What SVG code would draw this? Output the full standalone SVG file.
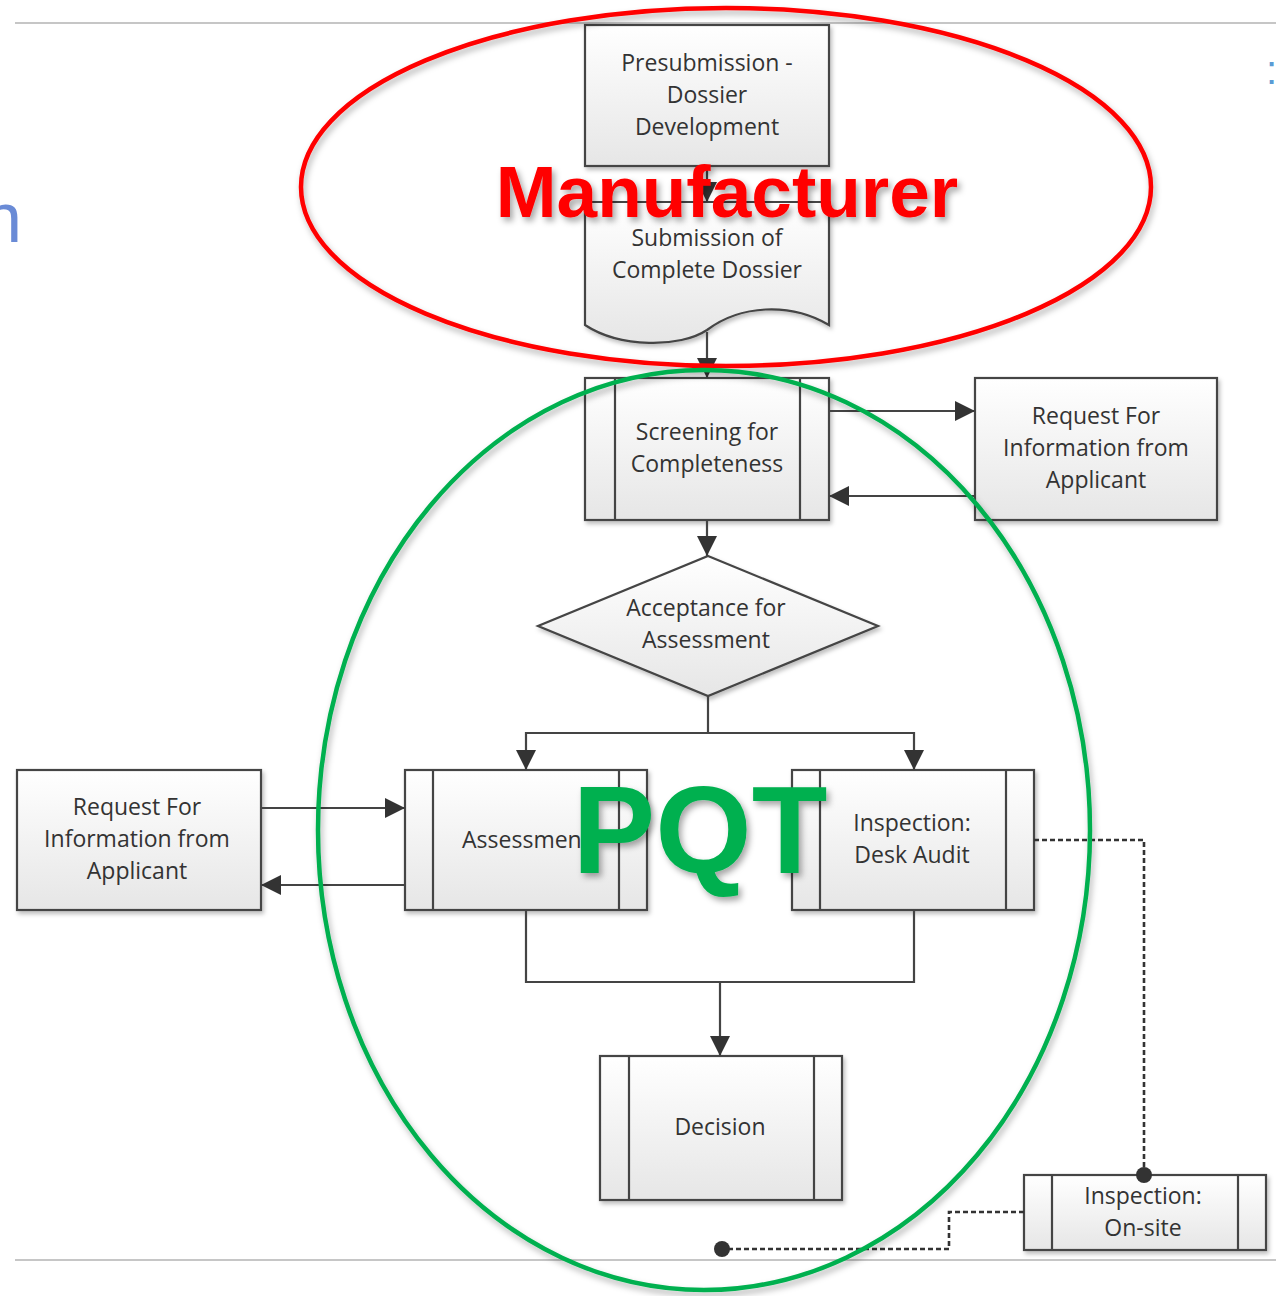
<svg xmlns="http://www.w3.org/2000/svg" width="1276" height="1296" viewBox="0 0 1276 1296">
<defs>
<linearGradient id="boxfill" x1="0" y1="0" x2="0" y2="1">
<stop offset="0" stop-color="#ffffff"/>
<stop offset="1" stop-color="#e6e6e6"/>
</linearGradient>
<filter id="sh" x="-10%" y="-10%" width="130%" height="130%">
<feDropShadow dx="2" dy="3" stdDeviation="2" flood-color="#000" flood-opacity="0.25"/>
</filter>
<filter id="tsh" x="-10%" y="-20%" width="130%" height="150%">
<feDropShadow dx="3" dy="4" stdDeviation="3" flood-color="#000" flood-opacity="0.35"/>
</filter>
<filter id="esh" x="-10%" y="-10%" width="130%" height="130%">
<feDropShadow dx="2" dy="4" stdDeviation="3" flood-color="#000" flood-opacity="0.3"/>
</filter>
<marker id="ah" viewBox="0 0 10 10" refX="10" refY="5" markerWidth="22" markerHeight="20" markerUnits="userSpaceOnUse" orient="auto">
<path d="M0,0 L10,5 L0,10 z" fill="#333"/>
</marker>
<style>
.box{fill:url(#boxfill);stroke:#444;stroke-width:2.2;filter:url(#sh)}
.inner{stroke:#444;stroke-width:2.2;fill:none}
.lbl{font-family:"Open Sans","Noto Sans",sans-serif;font-size:23px;fill:#333;text-anchor:middle}
.con{fill:none;stroke:#444;stroke-width:2.2}
.arr{fill:none;stroke:#444;stroke-width:2.2;marker-end:url(#ah)}
.dash{fill:none;stroke:#333;stroke-width:2.6;stroke-dasharray:5 3}
.frame{stroke:#b3b3b3;stroke-width:1.5}
</style>
</defs>
<rect width="1276" height="1296" fill="#ffffff"/>
<line class="frame" x1="15" y1="23" x2="1276" y2="23"/>
<line class="frame" x1="15" y1="1260" x2="1276" y2="1260"/>
<text x="-17" y="242" font-family="Liberation Sans, sans-serif" font-size="70" fill="#6a8bd6">n</text>
<text x="1266" y="84" font-family="Liberation Sans, sans-serif" font-size="40" fill="#5b9bd5">:</text>

<g id="presubmission">
<rect class="box" x="585" y="25" width="244" height="141"/>
<text class="lbl" x="707" y="71">Presubmission -</text>
<text class="lbl" x="707" y="103">Dossier</text>
<text class="lbl" x="707" y="135">Development</text>
</g>
<g id="submission">
<path class="box" d="M585,202 H829 V325 C790,302 740,305 707,330 C680,348 620,348 585,325 Z"/>
<text class="lbl" x="707" y="246">Submission of</text>
<text class="lbl" x="707" y="278">Complete Dossier</text>
</g>
<g id="screening">
<rect class="box" x="585" y="378" width="244" height="142"/>
<line class="inner" x1="615" y1="378" x2="615" y2="520"/>
<line class="inner" x1="800" y1="378" x2="800" y2="520"/>
<text class="lbl" x="707" y="440">Screening for</text>
<text class="lbl" x="707" y="472">Completeness</text>
</g>
<g id="rfi-right">
<rect class="box" x="975" y="378" width="242" height="142"/>
<text class="lbl" x="1096" y="424">Request For</text>
<text class="lbl" x="1096" y="456">Information from</text>
<text class="lbl" x="1096" y="488">Applicant</text>
</g>
<g id="acceptance">
<path class="box" d="M708,556 L878,626 L708,696 L538,626 Z"/>
<text class="lbl" x="706" y="616">Acceptance for</text>
<text class="lbl" x="706" y="648">Assessment</text>
</g>
<g id="rfi-left">
<rect class="box" x="17" y="770" width="244" height="140"/>
<text class="lbl" x="137" y="815">Request For</text>
<text class="lbl" x="137" y="847">Information from</text>
<text class="lbl" x="137" y="879">Applicant</text>
</g>
<g id="assessment">
<rect class="box" x="405" y="770" width="242" height="140"/>
<line class="inner" x1="433" y1="770" x2="433" y2="910"/>
<line class="inner" x1="619" y1="770" x2="619" y2="910"/>
<text class="lbl" x="526" y="848">Assessment</text>
</g>
<g id="desk-audit">
<rect class="box" x="792" y="770" width="242" height="140"/>
<line class="inner" x1="820" y1="770" x2="820" y2="910"/>
<line class="inner" x1="1006" y1="770" x2="1006" y2="910"/>
<text class="lbl" x="912" y="831">Inspection:</text>
<text class="lbl" x="912" y="863">Desk Audit</text>
</g>
<g id="decision">
<rect class="box" x="600" y="1056" width="242" height="144"/>
<line class="inner" x1="629" y1="1056" x2="629" y2="1200"/>
<line class="inner" x1="814" y1="1056" x2="814" y2="1200"/>
<text class="lbl" x="720" y="1135">Decision</text>
</g>
<g id="onsite">
<rect class="box" x="1024" y="1175" width="242" height="75"/>
<line class="inner" x1="1052" y1="1175" x2="1052" y2="1250"/>
<line class="inner" x1="1238" y1="1175" x2="1238" y2="1250"/>
<text class="lbl" x="1143" y="1204">Inspection:</text>
<text class="lbl" x="1143" y="1236">On-site</text>
</g>

<g id="connectors">
<path class="arr" d="M707,166 V202"/>
<path class="arr" d="M707,332 V378"/>
<path class="arr" d="M829,411 H975"/>
<path class="arr" d="M975,496 H829"/>
<path class="arr" d="M707,520 V556"/>
<path class="con" d="M708,696 V733 M526,733 H914"/>
<path class="arr" d="M526,732 V770"/>
<path class="arr" d="M914,732 V770"/>
<path class="arr" d="M261,808 H405"/>
<path class="arr" d="M405,885 H261"/>
<path class="con" d="M526,910 V982 H914 V910"/>
<path class="arr" d="M720,982 V1056"/>
<path class="dash" d="M1034,840 H1144 V1175"/>
<circle cx="1144" cy="1175" r="8" fill="#333"/>
<path class="dash" d="M1024,1212 H949 V1249 H722"/>
<circle cx="722" cy="1249" r="8" fill="#333"/>
</g>

<g id="manufacturer-group">
<ellipse cx="726" cy="187" rx="425" ry="179" fill="none" stroke="#ff0000" stroke-width="4.5" filter="url(#esh)"/>
<text x="727" y="217" font-family="Liberation Sans, Arial, sans-serif" font-weight="bold" font-size="73" fill="#ff0000" text-anchor="middle" filter="url(#tsh)">Manufacturer</text>
</g>
<g id="pqt-group">
<ellipse cx="704" cy="830" rx="386" ry="460" fill="none" stroke="#00b050" stroke-width="4.5" filter="url(#esh)"/>
<text x="700" y="873" font-family="Liberation Sans, Arial, sans-serif" font-weight="bold" font-size="124" fill="#00b050" text-anchor="middle" filter="url(#tsh)">PQT</text>
</g>
</svg>
